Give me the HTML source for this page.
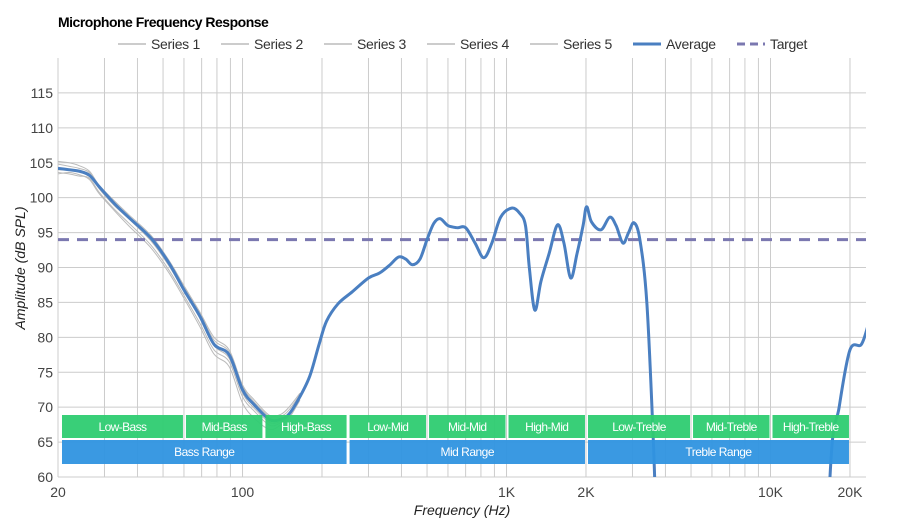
<!DOCTYPE html>
<html><head><meta charset="utf-8"><style>
body{margin:0;background:#fff;overflow:hidden;}
svg{display:block;font-family:"Liberation Sans",sans-serif;}
</style></head><body>
<svg id="chart" width="900" height="520">
<text x="58" y="27" font-size="14" font-weight="bold" fill="#000" letter-spacing="-0.5">Microphone Frequency Response</text>
<g id="legend"></g>
<g id="grid"></g>
<g id="series" clip-path="url(#clip)"></g>
<g id="bands"></g>
<g id="axes"></g>
<defs><clipPath id="clip"><rect x="58" y="58" width="808" height="419"/></clipPath></defs>
<text x="462" y="515" font-size="14" font-style="italic" fill="#222" text-anchor="middle">Frequency (Hz)</text>
<text transform="translate(25,268) rotate(-90)" font-size="14" font-style="italic" fill="#222" text-anchor="middle">Amplitude (dB SPL)</text>
</svg>
<script>
const avgFreq=[20,22,24,26.3,28.6,32.6,37,45,52.7,60,69,78,89,100,111,127,140,150,165,180,195,208,230,260,300,330,360,390,415,440,470,500,530,560,600,650,700,760,820,880,950,1045,1120,1180,1220,1280,1350,1450,1560,1650,1750,1850,1950,2010,2100,2280,2460,2600,2760,2900,3040,3200,3400,3600,3800,4200,15000,16800,18200,20000,22100,23600];
const avgDb=[104.2,104,103.8,103.2,101.6,99.2,97.2,94.2,90.6,86.8,83,79,77.5,72.5,70.3,68.2,68.3,69,71.5,74.5,79,82.3,84.8,86.5,88.5,89.2,90.3,91.5,91.2,90.4,91.2,94,96.3,97,96,95.7,95.7,93.5,91.4,93.5,97.2,98.5,97.8,96,90,83.9,88,92,96.1,93.5,88.5,92,96,98.7,96.5,95.4,97.2,96,93.5,95,96.4,94,85,65,40,10,10,60,70,78.2,79,82.2];
const greyFreq=[20,22,24,26.3,28.6,32.6,37,45,52.7,60,69,78,89,100,111,127,140,150,165];
const s1=[105.2,105,104.6,103.8,101.8,99.6,97.6,94.6,91,87.4,83.6,80,78.2,73.2,71,68.8,69,70,72];
const s2=[104.8,104.5,104.2,103.6,101.6,99.3,97.3,94.3,90.8,87.2,83.4,79.6,77.9,73,70.7,68.6,68.7,69.6,71.8];
const s3=[103.6,103.4,103.1,102.8,100.8,98.4,96.4,93.2,89.6,86,82,78.2,76.5,71.5,69.4,67.4,67.8,68.7,71.2];
const s4=[103.4,103.6,103.3,102.6,100.6,98.2,96,92.8,89.2,85.6,81.5,77.6,75.8,70.6,68.4,66.8,67.5,68.4,71];
const s5=[104,103.9,103.8,103.4,101.3,98.9,97,93.8,90.2,86.6,82.7,78.8,77,72,69.8,67.8,68,68.9,71.4];
const targetDb=94;
const yTicks=[60,65,70,75,80,85,90,95,100,105,110,115];
const xTickVals=[20,100,1000,2000,10000,20000];
const xTickLabels=["20","100","1K","2K","10K","20K"];
const gridFreqs=[20,30,40,50,60,70,80,90,100,200,300,400,500,600,700,800,900,1000,2000,3000,4000,5000,6000,7000,8000,9000,10000,20000];
const bandNames=["Low-Bass","Mid-Bass","High-Bass","Low-Mid","Mid-Mid","High-Mid","Low-Treble","Mid-Treble","High-Treble"];
const bandEdges=[20,60,120,250,500,1000,2000,5000,10000,20000];
const rangeNames=["Bass Range","Mid Range","Treble Range"];
const rangeEdges=[20,250,2000,20000];

const NS="http://www.w3.org/2000/svg";
const X0=58,X1=866,Y0=477,Y1=58,FMIN=20,FMAX=23000,DMIN=60,DMAX=120;
const x=f=>X0+(Math.log10(f)-Math.log10(FMIN))/(Math.log10(FMAX)-Math.log10(FMIN))*(X1-X0);
const y=d=>Y0-(d-DMIN)/(DMAX-DMIN)*(Y0-Y1);
function mk(tag,attrs,parent){const e=document.createElementNS(NS,tag);for(const k in attrs)e.setAttribute(k,attrs[k]);parent.appendChild(e);return e;}
function smooth(fs,ds){const p=fs.map((f,i)=>[x(f),y(ds[i])]);let d="M"+p[0][0]+","+p[0][1];
 for(let i=0;i<p.length-1;i++){const a=p[i-1]||p[i],b=p[i],c=p[i+1],e=p[i+2]||c;
 const t=1/6;d+=` C${b[0]+(c[0]-a[0])*t},${b[1]+(c[1]-a[1])*t} ${c[0]-(e[0]-b[0])*t},${c[1]-(e[1]-b[1])*t} ${c[0]},${c[1]}`;}return d;}

const grid=document.getElementById('grid');
yTicks.forEach(v=>{const l=mk('line',{x1:X0,x2:X1,y1:y(v),y2:y(v),stroke:'#ccc','stroke-width':1},grid);
});
gridFreqs.forEach(f=>{const l=mk('line',{x1:x(f),x2:x(f),y1:Y1,y2:Y0,stroke:'#ccc','stroke-width':1},grid);
});

const ser=document.getElementById('series');
[s1,s2,s3,s4,s5].forEach((s,i)=>{const p=mk('path',{d:smooth(greyFreq,s),fill:'none',stroke:'#bbb','stroke-width':1},ser);
});
const tl=mk('line',{x1:X0,x2:X1,y1:y(targetDb),y2:y(targetDb),stroke:'#7b78b0','stroke-width':3,'stroke-dasharray':'11,8'},ser);

const av=mk('path',{d:smooth(avgFreq,avgDb),fill:'none',stroke:'#4a7fc1','stroke-width':3},ser);


const bands=document.getElementById('bands');
bandNames.forEach((n,i)=>{const a=x(bandEdges[i])+(i==0?4:2),b=x(bandEdges[i+1])-1;
const r=mk('rect',{x:a,y:415,width:b-a,height:23,fill:'#2ecc71','fill-opacity':0.95},bands);

const t=mk('text',{x:(a+b)/2,y:431,'font-size':12,fill:'#fff','text-anchor':'middle','letter-spacing':'-0.6'},bands);t.textContent=n;
});
rangeNames.forEach((n,i)=>{const a=x(rangeEdges[i])+(i==0?4:2),b=x(rangeEdges[i+1])-1;
const r=mk('rect',{x:a,y:440,width:b-a,height:24,fill:'#2f93e0','fill-opacity':0.95},bands);

const t=mk('text',{x:(a+b)/2,y:456,'font-size':12,fill:'#fff','text-anchor':'middle','letter-spacing':'-0.5'},bands);t.textContent=n;
});

const axes=document.getElementById('axes');
yTicks.forEach(v=>{const t=mk('text',{x:53,y:y(v)+5,'font-size':14,fill:'#444','text-anchor':'end'},axes);t.textContent=v;
});
xTickVals.forEach((f,i)=>{const t=mk('text',{x:x(f),y:497,'font-size':14,fill:'#444','text-anchor':'middle'},axes);t.textContent=xTickLabels[i];
});

const lg=document.getElementById('legend');
const items=[["Series 1",118,'#ccc',2,''],["Series 2",221,'#ccc',2,''],["Series 3",324,'#ccc',2,''],["Series 4",427,'#ccc',2,''],["Series 5",530,'#ccc',2,''],["Average",633,'#4a7fc1',3,''],["Target",737,'#7b78b0',3,'8,5']];
items.forEach(it=>{const g=mk('g',{},lg);
mk('line',{x1:it[1],x2:it[1]+28,y1:44,y2:44,stroke:it[2],'stroke-width':it[3],'stroke-dasharray':it[4]},g);
const t=mk('text',{x:it[1]+33,y:49,'font-size':14,fill:'#333','letter-spacing':'-0.3'},g);t.textContent=it[0];});
</script>
</body></html>
